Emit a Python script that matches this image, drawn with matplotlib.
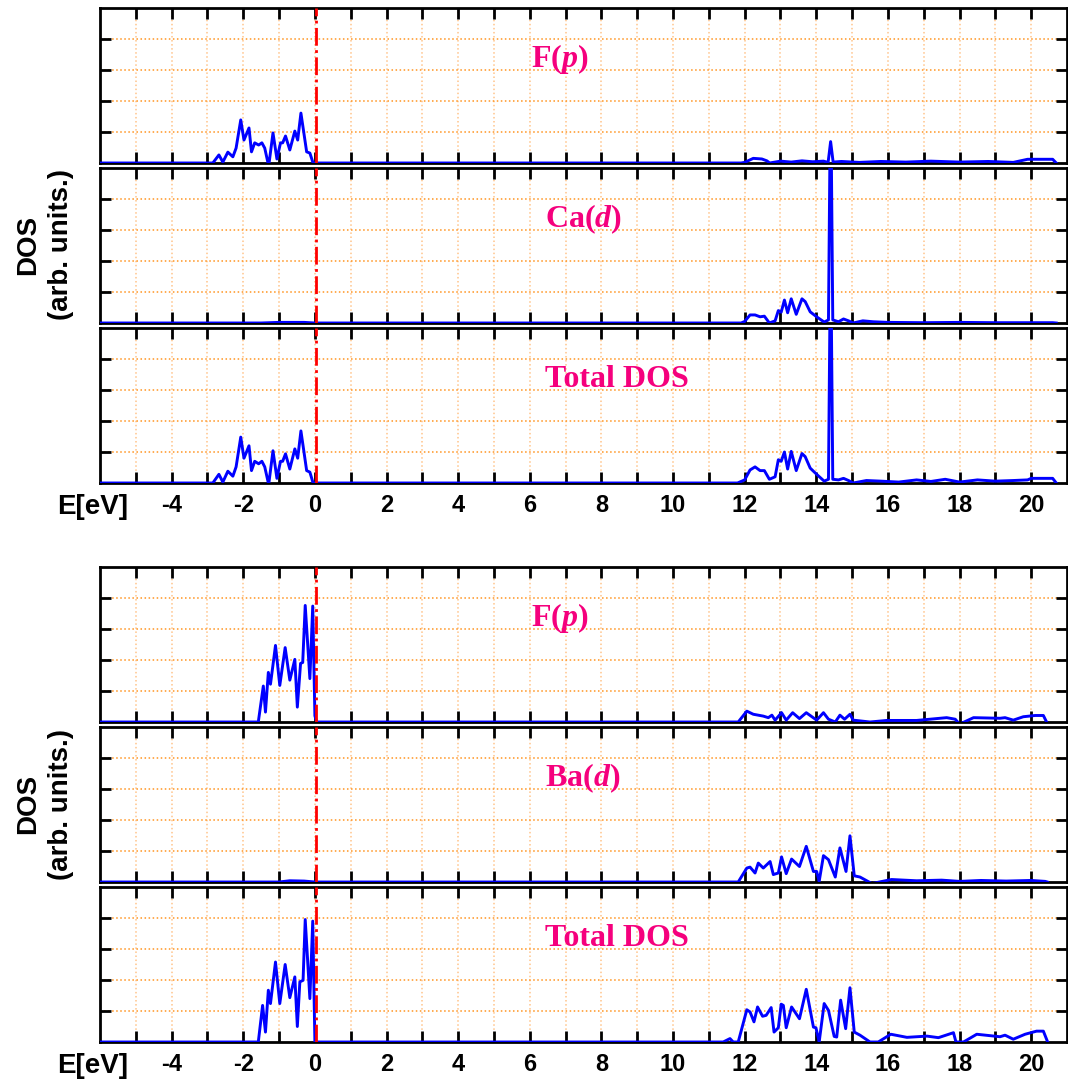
#import bibliotek
import numpy as np
import matplotlib
matplotlib.use("Agg")
from matplotlib import pyplot as plt

plt.rcParams['axes.unicode_minus'] = False
plt.rcParams['mathtext.fontset'] = 'custom'
plt.rcParams['mathtext.rm'] = 'Liberation Serif:bold'
plt.rcParams['mathtext.it'] = 'Liberation Serif:italic:bold'

#dane: (E [eV], DOS)
#CaF2 - F(p)
ca_fp = [(-6, 0), (-2.85, 0), (-2.68, 0.26), (-2.57, 0.03), (-2.43, 0.35), (-2.29, 0.2), (-2.2, 0.48),
         (-2.07, 1.39), (-1.98, 0.74), (-1.84, 1.13), (-1.77, 0.36), (-1.68, 0.65), (-1.57, 0.58),
         (-1.48, 0.65), (-1.4, 0.48), (-1.29, -0.1), (-1.17, 0.97), (-1.06, 0.13), (-0.96, 0.65),
         (-0.9, 0.65), (-0.82, 0.87), (-0.7, 0.42), (-0.56, 1.03), (-0.48, 0.74), (-0.39, 1.61),
         (-0.23, 0.36), (-0.14, 0.32), (-0.05, 0), (11.9, 0), (12.0, 0.02), (12.24, 0.15), (12.48, 0.13),
         (12.62, 0.07), (12.7, 0), (13.0, 0.06), (13.3, 0.03), (13.6, 0.07), (13.9, 0.04), (14.2, 0.06),
         (14.33, 0.02), (14.4, 0.69), (14.47, 0.03), (14.7, 0.05), (15.2, 0.02), (15.8, 0.05),
         (16.5, 0.03), (17.2, 0.06), (18.0, 0.03), (18.8, 0.05), (19.5, 0.02), (19.9, 0.12),
         (20.6, 0.12), (20.7, 0)]
#CaF2 - Ca(d)
ca_d = [(-6, 0), (-1.5, 0), (-1.0, 0.02), (-0.3, 0.02), (0, 0), (11.9, 0), (12.0, 0.05), (12.15, 0.26),
        (12.29, 0.26), (12.43, 0.2), (12.55, 0.22), (12.69, 0), (12.85, 0.07), (12.94, 0.4), (13.02, 0.35),
        (13.11, 0.74), (13.2, 0.33), (13.3, 0.78), (13.44, 0.28), (13.6, 0.78), (13.69, 0.69),
        (13.83, 0.36), (14.01, 0.2), (14.22, 0.03), (14.34, 0.1), (14.4, 8.0), (14.46, 0.1),
        (14.62, 0.04), (14.76, 0.13), (14.9, 0.07), (15.03, 0), (15.3, 0.07), (15.59, 0.04),
        (16.0, 0.02), (17.0, 0.01), (18.0, 0.02), (19.0, 0.01), (20.6, 0.01), (20.7, 0)]
#CaF2 - Total DOS
ca_tot = [(-6, 0), (-2.85, 0), (-2.68, 0.28), (-2.57, 0.03), (-2.43, 0.38), (-2.29, 0.22), (-2.2, 0.52),
          (-2.07, 1.48), (-1.98, 0.8), (-1.84, 1.2), (-1.77, 0.4), (-1.68, 0.7), (-1.57, 0.62),
          (-1.48, 0.7), (-1.4, 0.52), (-1.29, -0.05), (-1.17, 1.04), (-1.06, 0.15), (-0.96, 0.7),
          (-0.9, 0.7), (-0.82, 0.94), (-0.7, 0.45), (-0.56, 1.1), (-0.48, 0.8), (-0.39, 1.68),
          (-0.23, 0.4), (-0.14, 0.35), (-0.05, 0), (11.8, 0), (12.0, 0.1), (12.15, 0.42), (12.29, 0.52),
          (12.43, 0.4), (12.55, 0.4), (12.69, 0.12), (12.85, 0.2), (12.94, 0.75), (13.02, 0.7),
          (13.11, 1.0), (13.2, 0.45), (13.3, 1.02), (13.44, 0.4), (13.6, 0.95), (13.69, 0.85),
          (13.83, 0.48), (14.01, 0.28), (14.22, 0.06), (14.34, 0.12), (14.4, 8.0), (14.46, 0.12),
          (14.62, 0.1), (14.76, 0.15), (14.9, 0.08), (15.03, 0), (15.4, 0.08), (15.8, 0.06),
          (16.3, 0.03), (16.8, 0.1), (17.2, 0.05), (17.6, 0.12), (18.0, 0.03), (18.5, 0.1),
          (19.0, 0.06), (19.5, 0.08), (19.9, 0.1), (20.0, 0.15), (20.6, 0.15), (20.7, 0)]

#BaF2 - F(p)
ba_fp = [(-6, 0), (-1.58, 0), (-1.44, 1.16), (-1.38, 0.32), (-1.3, 1.6), (-1.24, 1.22), (-1.1, 2.47),
         (-0.98, 1.18), (-0.83, 2.4), (-0.7, 1.35), (-0.56, 2.02), (-0.49, 0.48), (-0.4, 1.89),
         (-0.34, 1.92), (-0.27, 3.76), (-0.14, 1.4), (-0.06, 3.74), (0.0, 0.2), (0.05, 0), (11.82, 0),
         (12.06, 0.35), (12.24, 0.25), (12.52, 0.19), (12.66, 0.14), (12.76, 0.22), (12.85, 0.06),
         (13.03, 0.3), (13.16, 0.06), (13.34, 0.3), (13.53, 0.11), (13.72, 0.3), (14.01, 0.06),
         (14.2, 0.3), (14.34, 0.09), (14.53, 0), (14.66, 0.22), (14.79, 0.09), (14.94, 0.25),
         (15.03, 0.06), (15.5, 0), (15.97, 0.05), (16.8, 0.05), (17.64, 0.14), (17.88, 0.09),
         (18.0, -0.07), (18.39, 0.14), (19.13, 0.12), (19.27, 0.14), (19.5, 0.06), (19.78, 0.17),
         (20.11, 0.21), (20.34, 0.21), (20.43, 0)]
#BaF2 - Ba(d)
ba_d = [(-6, 0), (-1.0, 0), (-0.7, 0.04), (-0.3, 0.03), (0, 0), (11.82, 0), (12.06, 0.45), (12.15, 0.48),
        (12.29, 0.29), (12.38, 0.61), (12.52, 0.45), (12.71, 0.66), (12.8, 0.24), (12.94, 0.29),
        (13.03, 0.81), (13.16, 0.27), (13.31, 0.74), (13.53, 0.5), (13.72, 1.15), (13.92, 0.34),
        (14.01, 0.34), (14.08, 0.02), (14.2, 0.85), (14.34, 0.72), (14.53, 0.16), (14.66, 1.1),
        (14.83, 0.34), (14.94, 1.49), (15.06, 0.2), (15.22, 0.16), (15.55, -0.05), (16.1, 0.08),
        (16.8, 0.04), (17.5, 0.06), (18.0, 0.02), (18.6, 0.05), (19.3, 0.03), (20.0, 0.05),
        (20.39, 0.02), (20.45, 0)]
#BaF2 - Total DOS
ba_tot = [(-6, 0), (-1.58, 0), (-1.46, 1.18), (-1.38, 0.32), (-1.3, 1.67), (-1.24, 1.24), (-1.1, 2.58),
          (-0.98, 1.24), (-0.83, 2.5), (-0.7, 1.43), (-0.56, 2.1), (-0.49, 0.5), (-0.42, 1.94),
          (-0.33, 1.99), (-0.27, 3.95), (-0.14, 1.4), (-0.06, 3.9), (0.0, 0), (11.4, 0), (11.59, 0.11),
          (11.68, 0), (11.82, 0), (12.06, 1.04), (12.15, 0.97), (12.26, 0.65), (12.36, 1.13),
          (12.5, 0.83), (12.6, 0.86), (12.74, 1.11), (12.82, 0.32), (12.94, 0.46), (13.02, 1.22),
          (13.08, 1.18), (13.16, 0.46), (13.31, 1.13), (13.53, 0.75), (13.72, 1.7), (13.92, 0.48),
          (13.99, 0.46), (14.08, 0), (14.22, 1.24), (14.34, 1.02), (14.5, 0.18), (14.57, 0.16),
          (14.68, 1.35), (14.82, 0.43), (14.94, 1.75), (15.06, 0.32), (15.22, 0.22), (15.5, 0),
          (15.73, 0), (16.08, 0.25), (16.53, 0.15), (17.09, 0.19), (17.41, 0.14), (17.83, 0.3),
          (17.9, 0), (18.11, 0), (18.48, 0.25), (19.13, 0.17), (19.27, 0.22), (19.5, 0.09),
          (19.83, 0.25), (20.15, 0.35), (20.34, 0.35), (20.46, 0)]

#etykiety paneli
ca_labels = ["F($\\mathit{p}$)", "Ca($\\mathit{d}$)", "Total DOS"]
ba_labels = ["F($\\mathit{p}$)", "Ba($\\mathit{d}$)", "Total DOS"]
label_x = [6.03, 6.42, 6.42]

x_ticks = list(range(-4, 21, 2))
x_minor = list(range(-5, 21, 2))
y_ticks = [1, 2, 3, 4]

W, H = 1068, 1079
fig = plt.figure(figsize=(W / 100, H / 100), dpi=100)

groups = [
    ([ca_fp, ca_d, ca_tot], ca_labels, [8, 168, 328]),
    ([ba_fp, ba_d, ba_tot], ba_labels, [567, 727, 887]),
]
pink = "#f5007d"

for curves, labels, tops in groups:
    for i, (data, lab, top) in enumerate(zip(curves, labels, tops)):
        ax = fig.add_axes([100 / W, 1 - (top + 155) / H, 967 / W, 155 / H])
        d = np.array(data)
        ax.plot(d[:, 0], d[:, 1], color="#0000ff", lw=2.1, zorder=3)
        ax.axvline(0.02, color="red", ls="-.", lw=2, zorder=4)
        ax.set_xlim(-6, 21)
        ax.set_ylim(0, 5)
        ax.set_xticks(x_ticks)
        ax.set_xticks(x_minor, minor=True)
        ax.set_yticks(y_ticks)
        #siatka: pionowe jaśniejsze, poziome ciemniejsze
        ax.xaxis.grid(True, which="both", color="#ffc48a", linestyle=":", linewidth=1.1)
        ax.yaxis.grid(True, which="major", color="#ff9420", linestyle=":", linewidth=1.1)
        ax.tick_params(which="both", direction="in", top=True, right=True, length=8, width=2,
                       labelleft=False, labelbottom=(i == 2), pad=8)
        for lbl in ax.get_xticklabels():
            lbl.set_fontfamily("Liberation Sans")
            lbl.set_fontweight("bold")
            lbl.set_fontsize(17)
        for s in ax.spines.values():
            s.set_linewidth(2)
            s.set_zorder(2.5)
        ax.text(label_x[i], 0.67, lab, transform=ax.get_xaxis_transform(), ha="left", va="center",
                fontfamily="Liberation Serif", fontweight="bold", fontsize=23, color=pink)
        if i == 2:
            ax.text(-6.2, -0.07, "E[eV]", transform=ax.get_xaxis_transform(), ha="center", va="top",
                    fontfamily="Liberation Sans", fontweight="bold", fontsize=20, clip_on=False)
    #opis osi y
    yc = tops[1] + 77
    fig.text(45 / W, 1 - yc / H, "DOS\n(arb. units.)", rotation=90, ha="center", va="center",
             multialignment="center", linespacing=1.35, fontfamily="Liberation Sans",
             fontweight="bold", fontsize=20)

plt.savefig("out.png", dpi=100)
plt.close()
